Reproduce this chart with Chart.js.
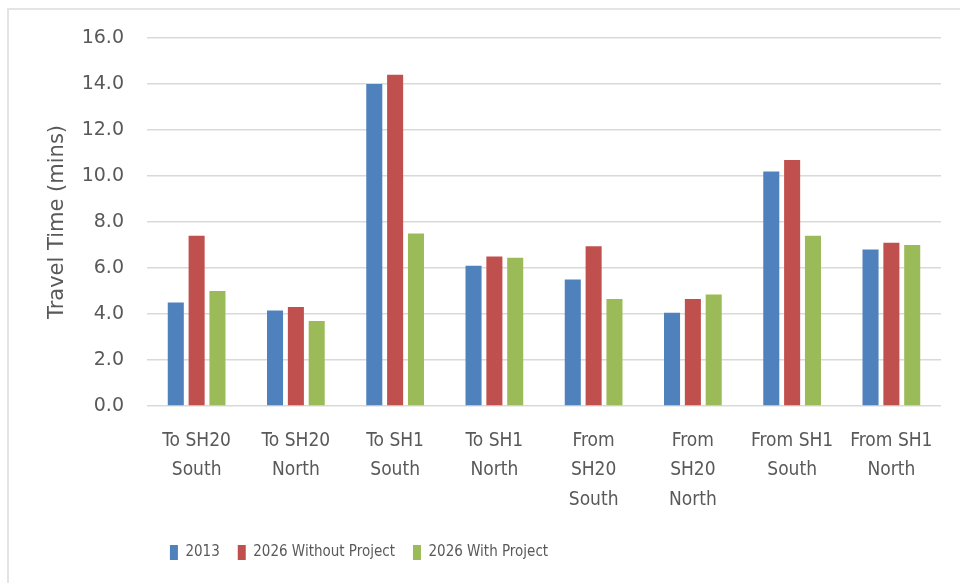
<!DOCTYPE html>
<html>
<head>
<meta charset="utf-8">
<script src="https://cdn.jsdelivr.net/npm/chart.js@4/dist/chart.umd.min.js"></script>
<style>
  html, body { margin: 0; padding: 0; background: #fff; }
  #wrap { position: relative; width: 960px; height: 583px; overflow: hidden; }
  #frame { position: absolute; left: 7px; top: 8px; right: 0; bottom: 0;
           border-top: 2px solid #e4e4e4; border-left: 2px solid #e4e4e4; }
  #chart { position: absolute; left: 0; top: 0; }
</style>
</head>
<body>
<div id="wrap">
  <div id="frame"></div>
  <canvas id="chart" width="960" height="583"></canvas>
</div>
<script>
  // travel times per route (minutes)
  const routes = [
    ['To SH20', 'South'], ['To SH20', 'North'], ['To SH1', 'South'], ['To SH1', 'North'],
    ['From', 'SH20', 'South'], ['From', 'SH20', 'North'], ['From SH1', 'South'], ['From SH1', 'North']
  ];
  const times2013 = [4.5, 4.15, 14.0, 6.1, 5.5, 4.05, 10.2, 6.8];
  const times2026Without = [7.4, 4.3, 14.4, 6.5, 6.95, 4.65, 10.7, 7.1];
  const times2026With = [5.0, 3.7, 7.5, 6.45, 4.65, 4.85, 7.4, 7.0];
  const yTicks = [0, 2, 4, 6, 8, 10, 12, 14, 16];

  const TEXT = '#595959';
  const NARROW = '"Liberation Sans Narrow", "DejaVu Sans Condensed", "Liberation Sans", sans-serif';

  // nudge the legend left so it sits under the left half of the plot
  const legendShift = {
    id: 'legendShift',
    afterLayout(chart) {
      const lg = chart.legend;
      if (!lg) return;
      const shift = 359 - (lg.left + lg.right) / 2;
      lg.left += shift;
      lg.right += shift;
    }
  };

  new Chart(document.getElementById('chart'), {
    type: 'bar',
    data: {
      labels: routes,
      datasets: [
        { label: '2013', data: times2013, backgroundColor: '#4f81bd' },
        { label: '2026 Without Project', data: times2026Without, backgroundColor: '#c0504d' },
        { label: '2026 With Project', data: times2026With, backgroundColor: '#9bbb59' }
      ]
    },
    options: {
      responsive: false,
      animation: false,
      layout: { padding: { left: 45, right: 19, top: 38, bottom: 13 } },
      datasets: { bar: { categoryPercentage: 0.63, barPercentage: 0.77 } },
      plugins: {
        tooltip: { enabled: false },
        legend: {
          position: 'bottom',
          align: 'center',
          labels: {
            boxWidth: 8, boxHeight: 15, padding: 18,
            color: TEXT,
            font: { family: NARROW, size: 15 }
          }
        }
      },
      scales: {
        x: {
          grid: { display: false, drawTicks: false },
          border: { display: false },
          ticks: {
            color: TEXT, padding: 20, maxRotation: 0, autoSkip: false,
            font: { family: NARROW, size: 19, lineHeight: 1.55 }
          },
          afterFit(scale) { scale.height = 121; }
        },
        y: {
          min: 0, max: 16,
          afterBuildTicks(scale) { scale.ticks = yTicks.map(v => ({ value: v })); },
          grid: { color: '#d9d9d9', lineWidth: 1.5, drawTicks: false },
          border: { display: false },
          ticks: {
            color: TEXT, padding: 23,
            font: { family: '"DejaVu Sans", sans-serif', size: 19 },
            callback: v => v.toFixed(1)
          },
          title: {
            display: true, text: 'Travel Time (mins)', color: TEXT,
            font: { family: '"DejaVu Sans", sans-serif', size: 21 },
            padding: 0
          },
          afterFit(scale) { scale.width = 102; }
        }
      }
    },
    plugins: [legendShift]
  });
</script>
</body>
</html>
